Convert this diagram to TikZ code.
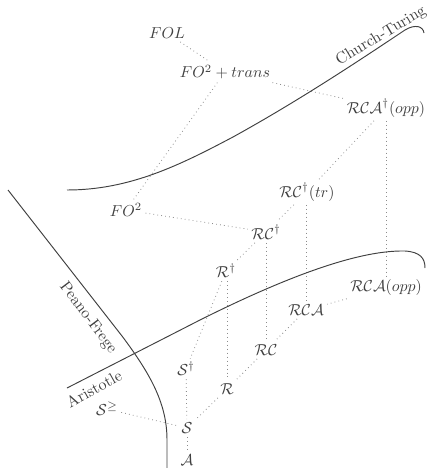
\documentclass[tikz,border=0pt]{standalone}
\usepackage{amssymb}
\usepackage{tikz}
\usetikzlibrary{positioning}

\begin{document}
\begin{tikzpicture}[
  x=0.63pt, y=-0.63pt,
  every node/.style={text=black!75},
  logic/.style={inner sep=2pt},
  border/.style={draw=black!75, line width=0.6pt},
  link/.style={draw=black!45, dotted, line width=0.5pt},
  tag/.style={inner sep=1pt}
]
  \useasboundingbox (0,0) rectangle (427,468);
  % logics
  \node[logic] (fol) at (167,33) {$FOL$};
  \node[logic] (fotrans) at (225,72) {$FO^2 + trans$};
  \node[logic] (rcadopp) at (386,108) {$\mathcal{RCA}^\dagger(opp)$};
  \node[logic] (rcdtr) at (307,192) {$\mathcal{RC}^\dagger(tr)$};
  \node[logic] (fo) at (126,210) {$FO^2$};
  \node[logic] (rcd) at (266,232) {$\mathcal{RC}^\dagger$};
  \node[logic] (rd) at (226,271) {$\mathcal{R}^\dagger$};
  \node[logic] (rcaopp) at (386,288) {$\mathcal{RCA}(opp)$};
  \node[logic] (rca) at (306,310) {$\mathcal{RCA}$};
  \node[logic] (rc) at (266,350) {$\mathcal{RC}$};
  \node[logic] (sd) at (186,369) {$\mathcal{S}^\dagger$};
  \node[logic] (r) at (227,389) {$\mathcal{R}$};
  \node[logic] (sgeq) at (107,409) {$\mathcal{S}^{\geq}$};
  \node[logic] (s) at (187,428) {$\mathcal{S}$};
  \node[logic] (a) at (187,460) {$\mathcal{A}$};
  % inclusions
  \draw[link] (fol) -- (fotrans);
  \draw[link] (fotrans) -- (fo);
  \draw[link] (fotrans) -- (rcadopp);
  \draw[link] (rcadopp) -- (rcdtr);
  \draw[link] (rcadopp.south -| rcaopp.north) -- (rcaopp.north);
  \draw[link] (rcdtr) -- (rcd);
  \draw[link] (rcdtr.south -| rca.north) -- (rca.north);
  \draw[link] (fo) -- (rcd);
  \draw[link] (rcd) -- (rd);
  \draw[link] (rcd.south -| rc.north) -- (rc.north);
  \draw[link] (rd) -- (sd);
  \draw[link] (rd.south -| r.north) -- (r.north);
  \draw[link] (rcaopp) -- (rca);
  \draw[link] (rca) -- (rc);
  \draw[link] (rc) -- (r);
  \draw[link] (r) -- (s);
  \draw[link] (sd) -- (s);
  \draw[link] (s) -- (a);
  \draw[link] (sgeq) -- (s);
  % borders
  \draw[border] (67,190) .. controls (130,190) and (180,165) .. (233,137)
    .. controls (300,100) and (360,60) .. (405,30)
    .. controls (415,24) and (423,26) .. (424,33);
  \draw[border] (8,190) -- (122,336) .. controls (152,376) and (167,405) .. (167,440) -- (167,468);
  \draw[border] (67,388) -- (200,320) .. controls (290,275) and (360,250) .. (405,251)
    .. controls (420,252) and (425,258) .. (425,268);
  \node[tag, rotate=31] (ct) at (381,36) {Church-Turing};
  \node[tag, rotate=-53] (pf) at (88,318) {Peano-Frege};
  \node[tag, rotate=29] (ar) at (94,389) {Aristotle};
\end{tikzpicture}
\end{document}
